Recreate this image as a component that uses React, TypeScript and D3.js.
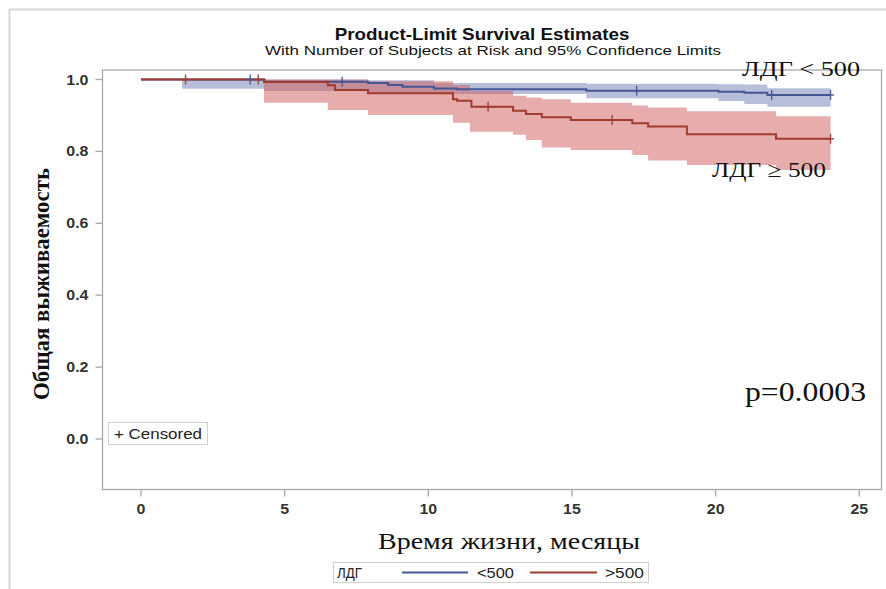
import React from "react";
import * as d3 from "d3";

// Kaplan–Meier steps, ЛДГ < 500
const lowTimes = [0, 4.3, 7.9, 8.6, 9.1, 10.2, 11.0, 15.5, 20.1, 21.0, 21.8, 24.0];
const lowSurv = [1.0, 0.994, 0.99, 0.985, 0.98, 0.975, 0.973, 0.969, 0.966, 0.963, 0.957, 0.957];
const lowBandTimes = [1.43, 4.28, 7.9, 10.2, 15.5, 20.1, 21.0, 21.8, 24.0];
const lowLower = [0.974, 0.968, 0.962, 0.96, 0.948, 0.94, 0.932, 0.924, 0.924];
const lowUpper = [1.0, 1.0, 0.998, 0.99, 0.988, 0.987, 0.986, 0.976, 0.976];
const lowCensored = [3.8, 7.0, 17.25, 21.95, 24.0];

// Kaplan–Meier steps, ЛДГ ≥ 500
const highTimes = [0, 4.28, 6.5, 6.75, 7.9, 10.86, 11.0, 11.5, 12.95, 13.4, 13.95, 14.96, 17.1, 17.65, 19.0, 22.1, 24.0];
const highSurv = [1.0, 0.993, 0.984, 0.971, 0.962, 0.945, 0.941, 0.924, 0.913, 0.904, 0.895, 0.887, 0.878, 0.869, 0.848, 0.835, 0.835];
const highBandTimes = [4.28, 6.5, 7.9, 10.86, 11.45, 12.95, 13.4, 13.95, 14.96, 17.1, 17.65, 19.0, 22.1, 24.0];
const highLower = [0.935, 0.915, 0.901, 0.88, 0.855, 0.846, 0.832, 0.811, 0.804, 0.79, 0.775, 0.762, 0.748, 0.748];
const highUpper = [1.0, 1.0, 0.995, 0.985, 0.968, 0.955, 0.95, 0.945, 0.935, 0.928, 0.922, 0.912, 0.898, 0.898];
const highCensored = [1.55, 4.08, 12.08, 16.4, 24.0];

const xTicks = [0, 5, 10, 15, 20, 25];
const yTicks = [0, 0.2, 0.4, 0.6, 0.8, 1.0];

const W = 886;
const H = 589;
const frame = { left: 102.5, right: 881.5, top: 70, bottom: 489.5 };

const x = d3.scaleLinear().domain([0, 25]).range([141, 859.3]);
const y = d3.scaleLinear().domain([0, 1]).range([439, 79.5]);

const sansFont = "'Liberation Sans', Arial, sans-serif";
const serifFont = "'Liberation Serif', 'Times New Roman', serif";

const lowLine = "#445694";
const highLine = "#A23A2E";
const lowFill = "#6F7EB3";
const highFill = "#D05B5B";

// the whole graphic is drawn slightly wide
const stretch = 1.14;

type Pt = { t: number; s: number };
type BandPt = { t: number; lo: number; hi: number };

const stepLine = d3
  .line<Pt>()
  .x((d) => x(d.t))
  .y((d) => y(d.s))
  .curve(d3.curveStepAfter);

const stepArea = d3
  .area<BandPt>()
  .x((d) => x(d.t))
  .y0((d) => y(d.lo))
  .y1((d) => y(d.hi))
  .curve(d3.curveStepAfter);

const toPts = (ts: number[], ss: number[]): Pt[] => ts.map((t, i) => ({ t, s: ss[i] }));
const toBand = (ts: number[], lo: number[], hi: number[]): BandPt[] =>
  ts.map((t, i) => ({ t, lo: lo[i], hi: hi[i] }));

// survival value at time t for a step function
const survAt = (ts: number[], ss: number[], t: number) => {
  let v = ss[0];
  for (let i = 0; i < ts.length; i++) if (ts[i] <= t) v = ss[i];
  return v;
};

function Censor({ t, s, color }: { t: number; s: number; color: string }) {
  const cx = x(t);
  const cy = y(s);
  return (
    <g stroke={color} strokeWidth={1.3}>
      <line x1={cx} x2={cx} y1={cy - 5} y2={cy + 5} />
      <line x1={cx - 3.5} x2={cx + 3.5} y1={cy} y2={cy} />
    </g>
  );
}

type WideTextProps = {
  x: number;
  y: number;
  anchor?: "start" | "middle" | "end";
  family: string;
  size: number;
  weight?: string;
  fill?: string;
  children: React.ReactNode;
};

// text widened horizontally around its anchor point
function WideText({ x: tx, y: ty, anchor = "start", family, size, weight = "normal", fill = "#111", children }: WideTextProps) {
  return (
    <text
      transform={`translate(${tx},${ty}) scale(${stretch},1)`}
      textAnchor={anchor}
      fontFamily={family}
      fontSize={size}
      fontWeight={weight}
      fill={fill}
    >
      {children}
    </text>
  );
}

export default function App() {
  const lowPts = toPts(lowTimes, lowSurv);
  const highPts = toPts(highTimes, highSurv);
  const lowBand = toBand(lowBandTimes, lowLower, lowUpper);
  const highBand = toBand(highBandTimes, highLower, highUpper);

  return (
    <svg
      width={W}
      height={H}
      style={{ position: "absolute", left: 0, top: 0, background: "#fff" }}
    >
      {/* outer border */}
      <rect x={9.5} y={9.5} width={W + 10} height={H + 10} fill="none" stroke="#d6d6d6" strokeWidth={2} />

      {/* titles */}
      <WideText x={482} y={40} anchor="middle" family={sansFont} size={16.5} weight="bold">
        Product-Limit Survival Estimates
      </WideText>
      <text
        x={265}
        y={55}
        fontFamily={sansFont}
        fontSize={13.5}
        textLength={456}
        lengthAdjust="spacingAndGlyphs"
        fill="#111"
      >
        With Number of Subjects at Risk and 95% Confidence Limits
      </text>

      {/* confidence bands */}
      <path d={stepArea(lowBand) ?? ""} fill={lowFill} fillOpacity={0.5} />
      <path d={stepArea(highBand) ?? ""} fill={highFill} fillOpacity={0.5} />

      {/* survival curves */}
      <path d={stepLine(lowPts) ?? ""} fill="none" stroke={lowLine} strokeWidth={2} />
      <path d={stepLine(highPts) ?? ""} fill="none" stroke={highLine} strokeWidth={2} />

      {lowCensored.map((t) => (
        <Censor key={"l" + t} t={t} s={survAt(lowTimes, lowSurv, t)} color={lowLine} />
      ))}
      {highCensored.map((t) => (
        <Censor key={"h" + t} t={t} s={survAt(highTimes, highSurv, t)} color={highLine} />
      ))}

      {/* plot frame */}
      <rect
        x={frame.left}
        y={frame.top}
        width={frame.right - frame.left}
        height={frame.bottom - frame.top}
        fill="none"
        stroke="#a8a8a8"
        strokeWidth={1.3}
      />

      {/* y axis */}
      {yTicks.map((v) => (
        <g key={"y" + v}>
          <line x1={frame.left - 7} x2={frame.left} y1={y(v)} y2={y(v)} stroke="#a8a8a8" strokeWidth={1.3} />
          <WideText x={frame.left - 14} y={y(v) + 5} anchor="end" family={sansFont} size={14} weight="bold" fill="#333">
            {v.toFixed(1)}
          </WideText>
        </g>
      ))}

      {/* x axis */}
      {xTicks.map((v) => (
        <g key={"x" + v}>
          <line x1={x(v)} x2={x(v)} y1={frame.bottom} y2={frame.bottom + 7} stroke="#a8a8a8" strokeWidth={1.3} />
          <WideText x={x(v)} y={frame.bottom + 24} anchor="middle" family={sansFont} size={14} weight="bold" fill="#333">
            {v}
          </WideText>
        </g>
      ))}

      {/* axis labels */}
      <text
        transform={`translate(49, 284) rotate(-90)`}
        textAnchor="middle"
        fontFamily={serifFont}
        fontWeight="bold"
        fontSize={23}
        textLength={232}
        lengthAdjust="spacingAndGlyphs"
        fill="#111"
      >
        Общая выживаемость
      </text>
      <text
        x={378}
        y={549}
        fontFamily={serifFont}
        fontSize={24}
        textLength={262}
        lengthAdjust="spacingAndGlyphs"
        fill="#111"
      >
        Время жизни, месяцы
      </text>

      {/* annotations */}
      <text x={742} y={76} fontFamily={serifFont} fontSize={22} textLength={118} lengthAdjust="spacingAndGlyphs" fill="#111">
        ЛДГ &lt; 500
      </text>
      <text x={712} y={177} fontFamily={serifFont} fontSize={22} textLength={114} lengthAdjust="spacingAndGlyphs" fill="#111">
        ЛДГ ≥ 500
      </text>
      <text x={745} y={401} fontFamily={serifFont} fontSize={27} textLength={121} lengthAdjust="spacingAndGlyphs" fill="#111">
        p=0.0003
      </text>

      {/* censored legend */}
      <rect x={108.5} y={422.5} width={99} height={22} fill="#fff" stroke="#d0d0d0" strokeWidth={1} />
      <text x={114} y={438.5} fontFamily={sansFont} fontSize={15} textLength={88} lengthAdjust="spacingAndGlyphs" fill="#222">
        + Censored
      </text>

      {/* group legend */}
      <rect x={333.5} y={562.5} width={315} height={20} fill="#fff" stroke="#d0d0d0" strokeWidth={1} />
      <text x={337} y={577.5} fontFamily={sansFont} fontSize={14} textLength={25} lengthAdjust="spacingAndGlyphs" fill="#222">
        ЛДГ
      </text>
      <line x1={402} x2={468} y1={572.5} y2={572.5} stroke={lowLine} strokeWidth={2} />
      <text x={477} y={577.5} fontFamily={sansFont} fontSize={14} textLength={37} lengthAdjust="spacingAndGlyphs" fill="#222">
        &lt;500
      </text>
      <line x1={530} x2={597} y1={572.5} y2={572.5} stroke={highLine} strokeWidth={2} />
      <text x={605} y={577.5} fontFamily={sansFont} fontSize={14} textLength={39} lengthAdjust="spacingAndGlyphs" fill="#222">
        &gt;500
      </text>
    </svg>
  );
}
